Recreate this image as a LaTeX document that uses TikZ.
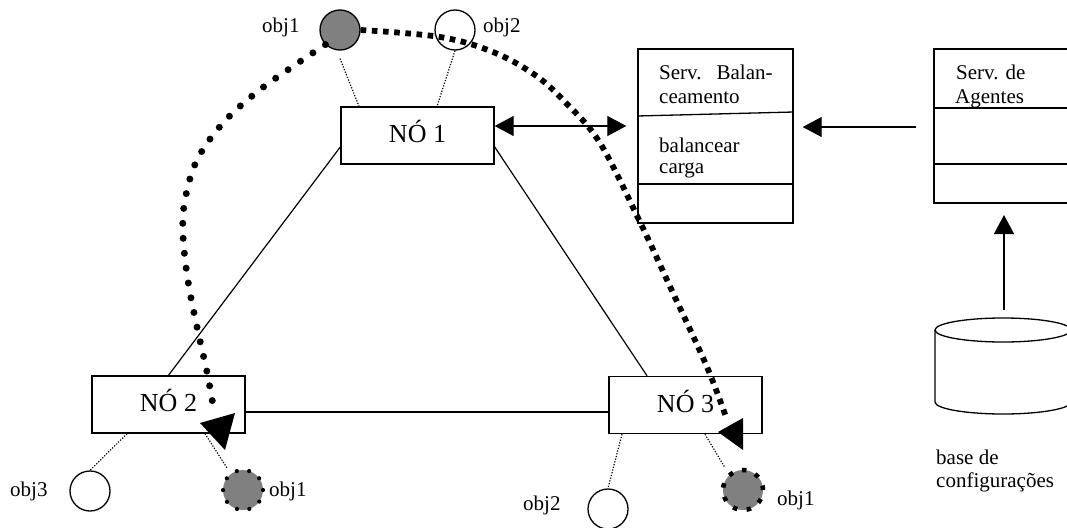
\documentclass[tikz,border=0pt]{standalone}
\usepackage{fontspec}
\setmainfont{Liberation Serif}
\usetikzlibrary{arrows.meta,calc}
\definecolor{objgray}{HTML}{808080}
\begin{document}
\begin{tikzpicture}[x=1pt,y=-1pt,
  nodebox/.style={draw, line width=1.4pt, fill=white, minimum width=153pt,
    minimum height=57pt, inner sep=0pt, font=\fontsize{26}{30}\selectfont,
    text height=14.4pt, text depth=0pt},
  classbox/.style={draw, line width=1.4pt, fill=white, inner sep=0pt},
  obj/.style={circle, draw, line width=1.3pt, minimum size=40pt, inner sep=0pt, fill=white},
  movedround/.style={circle, minimum size=40pt, inner sep=0pt, fill=objgray,
    draw, line width=4.2pt, line cap=round, dash pattern=on 0pt off 12.566pt},
  movedsquare/.style={circle, minimum size=40pt, inner sep=0pt, fill=objgray,
    draw, line width=4.5pt, dash pattern=on 4.5pt off 9.46pt},
  lbl/.style={font=\fontsize{21}{24}\selectfont, inner sep=0pt, anchor=base west},
  link/.style={line width=1.2pt},
  tie/.style={line width=1.2pt, dash pattern=on 1.2pt off 1.6pt},
  rounddots/.style={line width=7pt, line cap=round, dash pattern=on 0pt off 15pt},
  squaredots/.style={line width=5.8pt, dash pattern=on 5.6pt off 5.6pt},
  bigtip/.style={-{Triangle[length=19pt,width=20pt]}, line width=1.3pt},
  bothtips/.style={{Triangle[length=19pt,width=20pt]}-{Triangle[length=19pt,width=20pt]}, line width=1.3pt}
]
\useasboundingbox (0,0) rectangle (1067,527);
\clip (0,0) rectangle (1067,527);

% network nodes
\node[nodebox] (n1) at (417.5,135.5) {NÓ 1};
\node[nodebox] (n2) at (168.5,404.5) {NÓ 2};
\node[nodebox] (n3) at (685.5,405) {NÓ 3};

% triangle of links between the nodes
\draw[link] ([yshift=-11.5pt]n1.west) -- (n2.north);
\draw[link] ([yshift=-11.5pt]n1.east) -- ([xshift=-38.5pt]n3.north);
\draw[link] ([yshift=-7.5pt]n2.east) -- ([yshift=-7pt]n3.west);

% objects
\node[obj, fill=objgray] (o1) at (340,30) {};
\node[obj] (o2) at (455,30) {};
\node[obj] (o3) at (90,491) {};
\node[movedround] (o1b) at (243,490) {};
\node[obj] (o2b) at (608,509) {};
\node[movedsquare] (o1c) at (743,490) {};

\node[lbl] (l1) at (262,33) {obj1};
\node[lbl] (l2) at (483,33) {obj2};
\node[lbl] (l3) at (10,496) {obj3};
\node[lbl] (l4) at (269,496) {obj1};
\node[lbl] (l5) at (523,510) {obj2};
\node[lbl] (l6) at (777,505) {obj1};

% object-to-node ties
\draw[tie] ([yshift=-8pt]o1.south) -- ([xshift=-58.5pt]n1.north);
\draw[tie] (o2.south) -- ([xshift=19.5pt]n1.north);
\draw[tie] ([xshift=-41.5pt]n2.south) -- (o3.north);
\draw[tie] ([xshift=36.5pt]n2.south) -- ([xshift=-16pt]o1b.north);
\draw[tie] ([xshift=-63.5pt]n3.south) -- (o2b.north);
\draw[tie] ([xshift=19.5pt]n3.south) -- ([xshift=-18pt]o1c.north);

% balancing service
\node[classbox, minimum width=155pt, minimum height=174pt] (sb) at (715.5,136) {};
\draw[line width=1.3pt] (sb.west |- 0,116) -- (sb.east |- 0,112);
\draw[line width=1.3pt] (sb.west |- 0,184) -- (sb.east |- 0,184);
\node[lbl] (t1) at (659,79) {Serv.\hspace{15pt}Balan-};
\node[lbl] (t2) at (659,103) {ceamento};
\node[lbl] (t3) at (659,152) {balancear};
\node[lbl] (t4) at (659,173) {carga};

% agent service
\node[classbox, minimum width=166pt, minimum height=154pt] (ag) at (1017,126) {};
\draw[line width=1.3pt] (ag.west |- 0,108) -- (ag.east |- 0,108);
\draw[line width=1.3pt] (ag.west |- 0,164) -- (ag.east |- 0,164);
\node[lbl] (t5) at (956,79) {Serv. de};
\node[lbl] (t6) at (955,103) {Agentes};

% configuration store
\draw[line width=1.3pt] (1003,330) ellipse [x radius=68, y radius=12];
\draw[line width=1.3pt] (935,330) -- (935,402) arc[start angle=180, end angle=0, x radius=68, y radius=12] -- (1071,330);
\coordinate (dbtop) at (1004,310);
\coordinate (agin) at (1004,215);
\node[lbl] (t7) at (936,464) {base de};
\node[lbl] (t8) at (936,487) {configurações};

% service arrows
\draw[bothtips] ([yshift=9.5pt]n1.east) -- ([xshift=-11pt,yshift=10pt]sb.west);
\draw[bigtip] ([xshift=-17pt,yshift=-1pt]ag.west) -- ([xshift=9pt,yshift=9pt]sb.east);
\draw[bigtip] (dbtop) -- (agin);

% migration paths of obj1
\draw[rounddots] plot[smooth, tension=0.6] coordinates {(o1.225) (295,65) (257,92) (223,123) (197,160) (185,200) (183,235) (188,281) (197,327) (207,372) (213,405)};
\fill (225,450) -- (200,423) -- (235,413) -- cycle;
\draw[squaredots] plot[smooth, tension=0.6] coordinates {(o1.east) (440,37) (493,52) (535,75) (565,102) (600,143) (640,222) (673,293) (707,367) (727,420)};
\fill (718,432) -- (743,418) -- (743,450) -- cycle;
\end{tikzpicture}
\end{document}
